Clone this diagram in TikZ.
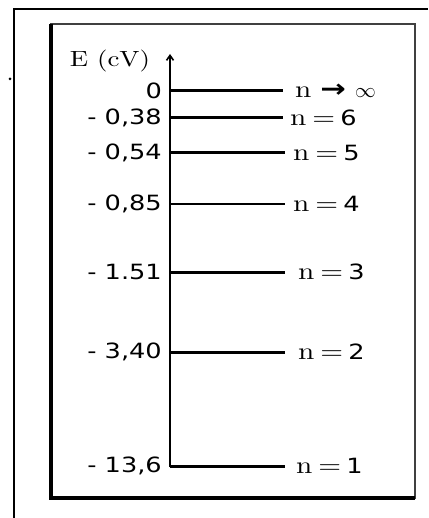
\documentclass[tikz,border=0pt]{standalone}
\usepackage{fontspec}
\newfontfamily\dvs[FakeStretch=1.22]{DejaVu Sans}
\newfontfamily\lmr[FakeStretch=1.22]{lmroman10-regular.otf}
\usetikzlibrary{arrows.meta}
\newcommand{\nn}{{\fontsize{24}{24}\selectfont\lmr n}}
\newcommand{\eqs}{{\fontsize{24}{24}\selectfont\lmr\hspace{6pt}=\hspace{5pt}}}
\begin{document}
\begin{tikzpicture}[x=1pt,y=-1pt,
  level/.style={line width=3pt},
  thinlevel/.style={line width=2pt},
  vlab/.style={anchor=east,inner sep=0pt,font=\fontsize{21}{21}\selectfont\dvs},
  nlab/.style={anchor=west,inner sep=0pt,font=\fontsize{21}{21}\selectfont\dvs},
  axis/.style={line width=1.6pt}]
\useasboundingbox (0,0) rectangle (428,518);
% outer frame (cropped)
\draw[line width=2.5pt] (14,518) -- (14,9) -- (428,9);
\fill (10,79) circle (1.5);
% inner box
\draw[line width=1.5pt,black!75] (51,24) rectangle (415,498);
\draw[line width=4pt] (51,24) -- (51,498) -- (415,498);
% axis
\coordinate (ax0) at (170,467);
\coordinate (axtop) at (170,54);
\draw[axis,-{Straight Barb[length=5pt,width=7pt]}] (ax0) -- (axtop);
\node[anchor=center,inner sep=0pt,font=\fontsize{22}{22}\selectfont\lmr] (E) at (110,61) {E (cV)};
% levels
\foreach \nm/\y/\xe/\val/\xl/\lab/\sty in {
  l0/91/283/0/295/{\nn\hspace{9pt}{\fontsize{25}{25}\selectfont\bfseries →}\hspace{9pt}{\fontsize{20}{20}\selectfont$\infty$}}/level,
  l6/118/283/{- 0,38}/290/{\nn\eqs 6}/level,
  l5/153/285/{- 0,54}/293/{\nn\eqs 5}/level,
  l4/204/285/{- 0,85}/293/{\nn\eqs 4}/thinlevel,
  l3/272/285/{- 1.51}/298/{\nn\eqs 3}/level,
  l2/352/285/{- 3,40}/298/{\nn\eqs 2}/level,
  l1/466/285/{- 13,6}/296/{\nn\eqs 1}/level}{
  \coordinate (\nm a) at (170,\y);
  \coordinate (\nm b) at (\xe,\y);
  \draw[\sty] (\nm a) -- (\nm b);
  \node[vlab] (\nm v) at (162,\y) {\val};
  \node[nlab] (\nm n) at (\xl,\y) {\lab};
}
\end{tikzpicture}
\end{document}
